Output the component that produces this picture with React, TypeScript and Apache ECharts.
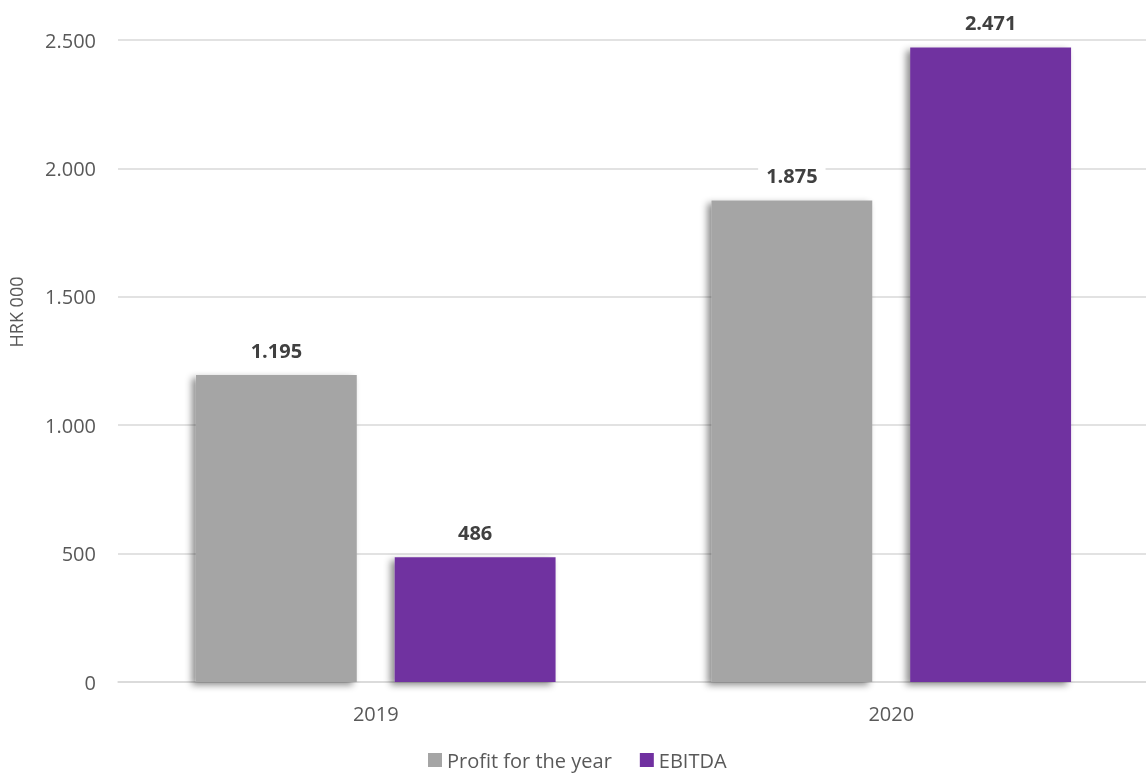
import React, { useEffect, useRef } from "react";
import * as echarts from "echarts";

const categories = ["2019", "2020"];
const profitValues = [1195, 1875];
const ebitdaValues = [486, 2471];
const seriesNames = ["Profit for the year", "EBITDA"];
const axisName = "HRK 000";

const fmt = (v: number) => {
  const s = String(Math.round(v));
  return s.replace(/\B(?=(\d{3})+(?!\d))/g, ".");
};

export default function App() {
  const ref = useRef<HTMLDivElement>(null);
  useEffect(() => {
    if (!ref.current) return;
    const chart = echarts.init(ref.current, undefined, { renderer: "svg" });
    const font = "'Open Sans', 'Noto Sans', sans-serif";
    const barStyle = (color: string) => ({
      color,
      shadowColor: "rgba(0,0,0,0.45)",
      shadowBlur: 7,
      shadowOffsetX: -4,
      shadowOffsetY: 3,
    });
    const label = {
      show: true,
      position: "top",
      distance: 13,
      color: "#404040",
      fontWeight: "bold",
      fontSize: 20,
      fontFamily: font,
      backgroundColor: "#ffffff",
      padding: [2, 8],
      formatter: (p: any) => fmt(p.value),
    };
    chart.setOption({
      animation: false,
      textStyle: { fontFamily: font },
      grid: { left: 118, right: 0, top: 40, bottom: 94, containLabel: false },
      legend: {
        bottom: 1,
        left: 423,
        itemWidth: 14,
        itemHeight: 14,
        itemGap: 28,
        icon: "rect",
        textStyle: { color: "#595959", fontSize: 20, fontFamily: font },
        data: seriesNames,
      },
      xAxis: {
        type: "category",
        data: categories,
        axisLine: { lineStyle: { color: "#d9d9d9", width: 1.5 } },
        axisTick: { show: false },
        axisLabel: { color: "#595959", fontSize: 20, margin: 21, fontFamily: font },
      },
      yAxis: {
        type: "value",
        min: 0,
        max: 2500,
        interval: 500,
        axisLine: { show: false },
        axisTick: { show: false },
        splitLine: { lineStyle: { color: "#d9d9d9", width: 1.5 } },
        axisLabel: {
          color: "#595959",
          fontSize: 20,
          margin: 22,
          fontFamily: font,
          formatter: (v: number) => fmt(v),
        },
      },
      graphic: [
        {
          type: "text",
          x: 16,
          y: 312,
          rotation: Math.PI / 2,
          style: {
            text: axisName,
            fill: "#595959",
            fontSize: 18,
            fontFamily: font,
            align: "center",
            verticalAlign: "middle",
          },
        },
      ],
      series: [
        {
          name: seriesNames[0],
          type: "bar",
          data: profitValues,
          barWidth: "31.2%",
          barGap: "23.6%",
          itemStyle: barStyle("#a5a5a5"),
          label,
        },
        {
          name: seriesNames[1],
          type: "bar",
          data: ebitdaValues,
          barWidth: "31.2%",
          barGap: "23.6%",
          itemStyle: barStyle("#7030a0"),
          label,
        },
      ],
    });
    return () => chart.dispose();
  }, []);
  return (
    <div
      ref={ref}
      style={{ position: "fixed", left: 0, top: 0, width: 1149, height: 776 }}
    />
  );
}
